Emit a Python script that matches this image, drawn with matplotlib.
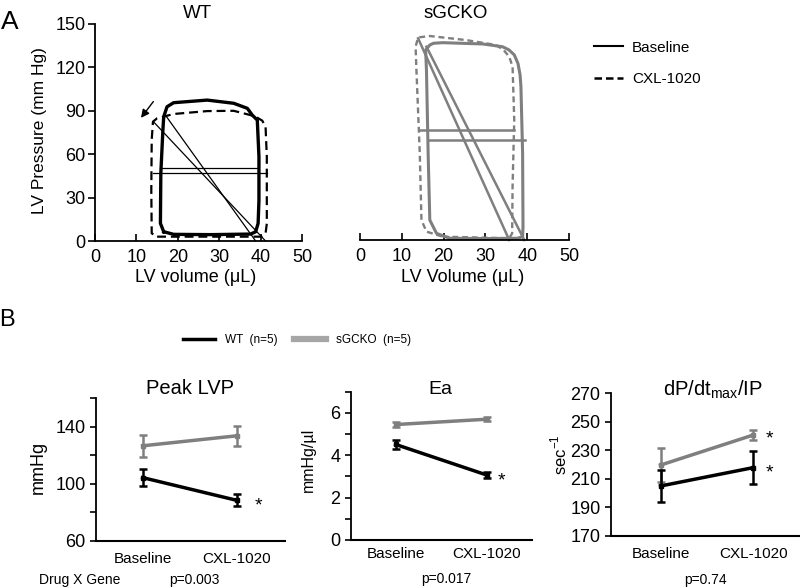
import matplotlib
matplotlib.use("Agg")
import matplotlib.pyplot as plt
from matplotlib.lines import Line2D

plt.rcParams['font.family'] = ['Liberation Sans', 'DejaVu Sans']

# ---- PV loops (volume uL, pressure mmHg) ----
wt_base_vol = [16.6, 19.0, 28.0, 37.6, 38.8, 39.4, 39.6, 39.6, 39.2, 38.0, 36.8, 33.5, 27.1, 19.0, 17.4, 16.6, 16.4, 15.9, 15.8, 16.6]
wt_base_p = [6.4, 4.6, 4.4, 4.8, 6.4, 12.2, 28.0, 58.3, 83.6, 87.0, 91.7, 95.2, 97.4, 95.6, 92.8, 85.9, 76.7, 46.8, 12.2, 6.4]
wt_cxl_vol = [15.0, 27.0, 40.0, 41.2, 41.5, 41.5, 41.2, 40.4, 38.8, 37.6, 33.5, 27.1, 19.0, 15.0, 14.0, 13.7, 13.6, 13.7, 15.0]
wt_cxl_p = [3.0, 3.0, 3.0, 5.3, 12.0, 58.3, 79.0, 83.2, 85.9, 87.0, 90.0, 89.8, 87.8, 84.8, 82.5, 70.0, 35.0, 5.3, 3.0]

ko_base_vol = [21.4, 30.0, 37.7, 38.9, 39.0, 38.9, 38.5, 38.3, 37.8, 36.9, 35.6, 34.1, 29.4, 19.8, 17.6, 16.7, 15.7, 15.9, 16.3, 16.7, 18.3, 21.4]
ko_base_p = [1.2, 1.0, 1.2, 2.3, 9.2, 60.0, 106.0, 114.0, 122.0, 128.0, 131.5, 133.6, 135.5, 136.4, 136.0, 134.8, 131.3, 117.5, 60.0, 13.8, 4.6, 1.2]
ko_cxl_vol = [19.8, 35.7, 36.4, 36.5, 36.9, 36.5, 35.7, 34.3, 32.5, 25.4, 16.7, 13.9, 13.3, 13.5, 14.3, 14.7, 15.9, 19.8]
ko_cxl_p = [2.3, 1.2, 4.6, 36.8, 83.0, 119.8, 126.7, 131.5, 134.8, 138.2, 141.0, 140.0, 133.6, 117.5, 60.0, 13.8, 5.8, 2.3]

# Ea lines (end-systole -> EDV at 0) and mean-pressure lines
wt_ea_base = ([17.0, 38.8], [87.0, 0.0])
wt_ea_cxl = ([14.1, 41.2], [82.5, 0.0])
wt_mean_base = ([15.8, 39.2], [50.7, 50.7])
wt_mean_cxl = ([14.0, 41.5], [46.8, 46.8])
ko_ea_base = ([15.9, 39.3], [133.6, 0.0])
ko_ea_cxl = ([13.9, 35.7], [139.4, 0.0])
ko_mean_base = ([16.3, 39.5], [69.1, 69.1])
ko_mean_cxl = ([14.1, 36.9], [76.0, 76.0])

# ---- group summaries (mean, sem) ----
groups = ["Baseline", "CXL-1020"]
lvp_wt = [104.2, 88.3]
lvp_wt_err = [6.2, 4.3]
lvp_ko = [126.5, 133.5]
lvp_ko_err = [7.5, 7.0]
ea_wt = [4.51, 3.07]
ea_wt_err = [0.23, 0.15]
ea_ko = [5.45, 5.70]
ea_ko_err = [0.12, 0.10]
dp_wt = [204.9, 217.8]
dp_wt_err = [11.5, 11.8]
dp_ko = [219.6, 240.7]
dp_ko_err = [11.7, 3.3]

GRAY = "#7f7f7f"
W, H = 800, 588


def box(x0, x1, y0, y1):
    return [x0 / W, 1 - y1 / H, (x1 - x0) / W, (y1 - y0) / H]


def ftext(x, y, s, **kw):
    fig.text(x / W, 1 - y / H, s, ha=kw.pop("ha", "center"), va=kw.pop("va", "center"), **kw)


fig = plt.figure(figsize=(8, 5.88), dpi=100)

# ---------------- panel A ----------------
ax_wt = fig.add_axes(box(95, 302, 24, 241))
ax_ko = fig.add_axes(box(360, 569, 23, 240))
for ax in (ax_wt, ax_ko):
    ax.set_xlim(0, 50)
    ax.set_ylim(0, 150)
    ax.spines[["top", "right"]].set_visible(False)
    ax.spines["bottom"].set_linewidth(1.3)
    ax.spines["left"].set_linewidth(1.3)
    ax.set_xticks(range(0, 51, 10))
    ax.tick_params(axis="x", direction="in", length=5, width=1.2, pad=6, labelsize=13)
    ax.patch.set_alpha(0)
ax_wt.set_yticks(range(0, 151, 30))
ax_wt.tick_params(axis="y", direction="out", length=5, width=1.2, pad=2, labelsize=13)
ax_ko.spines["left"].set_visible(False)
ax_ko.set_yticks([])

ax_wt.plot(wt_base_vol, wt_base_p, color="black", lw=2.4, clip_on=False, solid_joinstyle="round")
ax_wt.plot(wt_cxl_vol, wt_cxl_p, color="black", lw=1.6, ls=(0, (4, 2.2)), clip_on=False)
for ln in (wt_ea_base, wt_ea_cxl, wt_mean_base, wt_mean_cxl):
    ax_wt.plot(*ln, color="black", lw=0.9, clip_on=False)
ax_wt.annotate("", xy=(10.7, 83.6), xytext=(14.5, 97.9),
               arrowprops=dict(arrowstyle="-|>", color="black", lw=1.0, mutation_scale=12))

ax_ko.plot(ko_base_vol, ko_base_p, color=GRAY, lw=2.2, clip_on=False, solid_joinstyle="round")
ax_ko.plot(ko_cxl_vol, ko_cxl_p, color=GRAY, lw=1.7, ls=(0, (2.5, 1.6)), clip_on=False)
for ln in (ko_ea_base, ko_ea_cxl, ko_mean_base, ko_mean_cxl):
    ax_ko.plot(*ln, color=GRAY, lw=1.8, clip_on=False)

ftext(10, 22, "A", fontsize=19)
ftext(197, 13, "WT", fontsize=13.5)
ftext(456, 13, "sGCKO", fontsize=13.5)
ftext(40, 131, "LV Pressure (mm Hg)", fontsize=12.5, rotation=90)
ftext(196, 277, "LV volume (\u03bcL)", fontsize=13)
ftext(463, 277, "LV Volume (\u03bcL)", fontsize=13)

top_handles = [Line2D([], [], color="black", lw=1.5),
               Line2D([], [], color="black", lw=1.8, ls=(0, (3, 1.6)))]
fig.legend(top_handles, ["Baseline", "CXL-1020"], loc="upper left",
           bbox_to_anchor=(580 / W, 1 - 27 / H), frameon=False, fontsize=11,
           handlelength=1.9, handletextpad=0.6, labelspacing=1.15)

# ---------------- panel B ----------------
ftext(7, 320, "B", fontsize=17)
b_handles = [Line2D([], [], color="black", lw=2.5), Line2D([], [], color="#a6a6a6", lw=4.5)]
fig.legend(b_handles, ["WT  (n=5)", "sGCKO  (n=5)"], loc="center left",
           bbox_to_anchor=(172 / W, 1 - 340 / H), frameon=False, ncol=2,
           fontsize=8.5, handlelength=2.7, handletextpad=0.85, columnspacing=1.4)

panels = [
    (box(96, 285, 398, 540.7), (60, 160), lvp_wt, lvp_wt_err, lvp_ko, lvp_ko_err, (-0.497, 1.514)),
    (box(350.7, 532, 391.7, 540), (0, 7), ea_wt, ea_wt_err, ea_ko, ea_ko_err, (-0.495, 1.5)),
    (box(611, 800, 393.3, 535.7), (170, 270), dp_wt, dp_wt_err, dp_ko, dp_ko_err, (-0.535, 1.505)),
]
xpos = [0, 1]
axes_b = []
for rect, ylim, wt, wte, ko, koe, xlim in panels:
    ax = fig.add_axes(rect)
    ax.set_xlim(*xlim)
    ax.set_ylim(*ylim)
    ax.spines[["top", "right"]].set_visible(False)
    ax.spines["bottom"].set_linewidth(1.5)
    ax.spines["left"].set_linewidth(1.3)
    ax.errorbar(xpos, ko, yerr=koe, color=GRAY, lw=2.5, elinewidth=1.8, capsize=3, capthick=1.8,
                marker="s", ms=3.5, clip_on=False)
    ax.errorbar(xpos, wt, yerr=wte, color="black", lw=2.5, elinewidth=1.8, capsize=3, capthick=1.8,
                marker="s", ms=3.5, clip_on=False)
    ax.set_xticks(xpos)
    ax.set_xticklabels(groups)
    ax.tick_params(axis="x", length=0, labelsize=11)
    ax.tick_params(axis="y", direction="out", length=4.5, width=1.2, pad=3)
    ax.patch.set_alpha(0)
    axes_b.append(ax)

ax_lvp, ax_ea, ax_dp = axes_b
ax_lvp.set_yticks([60, 100, 140])
ax_lvp.set_yticks([80, 120, 160], minor=True)
ax_lvp.tick_params(axis="y", which="both", length=4.5, width=1.2, labelsize=13)
ax_lvp.tick_params(axis="x", pad=8)
ax_ea.set_yticks([0, 2, 4, 6])
ax_ea.set_yticks([1, 3, 5, 7], minor=True)
ax_ea.tick_params(axis="y", which="both", length=4.5, width=1.2, labelsize=13)
ax_ea.tick_params(axis="x", pad=5)
ax_dp.set_yticks(range(170, 271, 20))
ax_dp.tick_params(axis="y", labelsize=13)
ax_dp.tick_params(axis="x", pad=8)

star = dict(textcoords="offset points", ha="center", va="center", fontsize=14)
ax_lvp.annotate("*", (1, lvp_wt[1]), xytext=(16, -4), **star)
ax_ea.annotate("*", (1, ea_wt[1]), xytext=(11, -4), **star)
ax_dp.annotate("*", (1, dp_ko[1]), xytext=(12, -3), **star)
ax_dp.annotate("*", (1, dp_wt[1]), xytext=(12, -4), **star)

ftext(190, 389, "Peak LVP", fontsize=14.5)
ftext(440, 390, "Ea", fontsize=14)
ftext(713, 390, r"dP/dt$_\mathregular{max}$/IP", fontsize=14.5)
ftext(38, 467, "mmHg", fontsize=13, rotation=90)
ftext(308, 460, "mmHg/\u00b5l", fontsize=11.5, rotation=90)
ftext(559, 455, r"sec$^\mathregular{-1}$", fontsize=12, rotation=90)

ftext(80, 580, "Drug X Gene", fontsize=10)
ftext(194, 580, "p=0.003", fontsize=10)
ftext(446, 579, "p=0.017", fontsize=10)
ftext(705, 580, "p=0.74", fontsize=10)

fig.savefig("out.png", dpi=100)
